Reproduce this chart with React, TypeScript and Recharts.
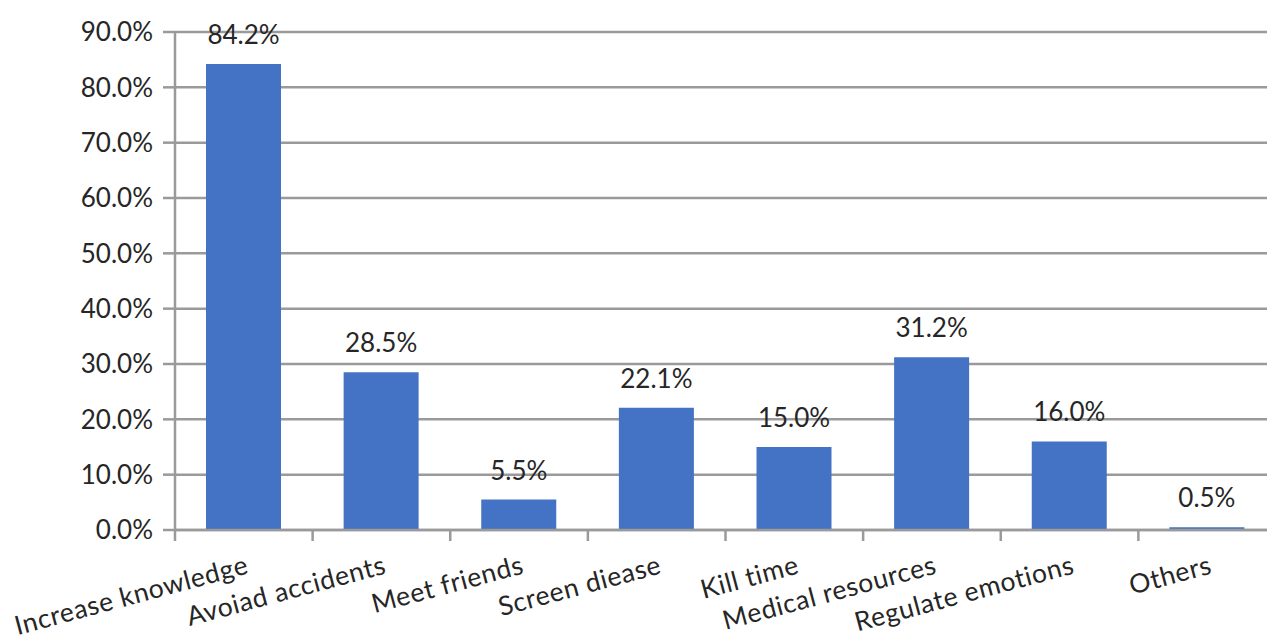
import { BarChart, Bar, XAxis, YAxis, CartesianGrid, LabelList } from "recharts";

const categories = [
  "Increase knowledge",
  "Avoiad accidents",
  "Meet friends",
  "Screen diease",
  "Kill time",
  "Medical resources",
  "Regulate emotions",
  "Others",
];

const percents = [84.2, 28.5, 5.5, 22.1, 15.0, 31.2, 16.0, 0.5];

const yTicks = [0, 10, 20, 30, 40, 50, 60, 70, 80, 90];

const data = categories.map((name, i) => ({ name, value: percents[i] }));

const W = 1300;
const H = 641;
const LEFT = 175;
const RIGHT = 24;
const HALF_BAND = (W - LEFT - RIGHT) / categories.length / 2;
const GRID = "#9a9a9a";
const FONT = "Lato, 'Open Sans', sans-serif";

function XTick(props: any) {
  const { x, y, payload } = props;
  const tx = x + 6;
  const ty = y + 43;
  return (
    <g>
      <line x1={x - HALF_BAND} x2={x - HALF_BAND} y1={y} y2={y + 11} stroke={GRID} strokeWidth={2.5} />
      <text
        x={tx}
        y={ty}
        textAnchor="end"
        fontSize={26.5}
        letterSpacing={0.6}
        fill="#262626"
        fontFamily={FONT}
        transform={`rotate(-15, ${tx}, ${ty})`}
      >
        {payload.value}
      </text>
    </g>
  );
}

export default function App() {
  return (
    <div style={{ width: 1267, height: 641, overflow: "hidden" }}>
      <style>{`body { margin: 0; overflow: hidden; }`}</style>
      <BarChart
        width={W}
        height={H}
        data={data}
        margin={{ top: 32, right: RIGHT, bottom: 0, left: 0 }}
        barSize={75}
      >
        <CartesianGrid vertical={false} stroke={GRID} strokeWidth={2.5} />
        <XAxis
          dataKey="name"
          height={111}
          interval={0}
          tickLine={false}
          tickSize={0}
          tickMargin={0}
          axisLine={{ stroke: GRID, strokeWidth: 2.5 }}
          tick={<XTick />}
        />
        <YAxis
          width={LEFT}
          domain={[0, 90]}
          ticks={yTicks}
          interval={0}
          tickFormatter={(v: number) => v.toFixed(1) + "%"}
          tickSize={12}
          tickMargin={10}
          tickLine={{ stroke: GRID, strokeWidth: 2.5 }}
          axisLine={{ stroke: GRID, strokeWidth: 2.5 }}
          tick={{ fontSize: 26, fill: "#262626", fontFamily: FONT }}
        />
        <Bar dataKey="value" fill="#4472C4" isAnimationActive={false}>
          <LabelList
            dataKey="value"
            position="top"
            offset={20}
            formatter={(v: any) => Number(v).toFixed(1) + "%"}
            style={{ fontSize: 26, fill: "#262626", fontFamily: FONT }}
          />
        </Bar>
      </BarChart>
    </div>
  );
}
